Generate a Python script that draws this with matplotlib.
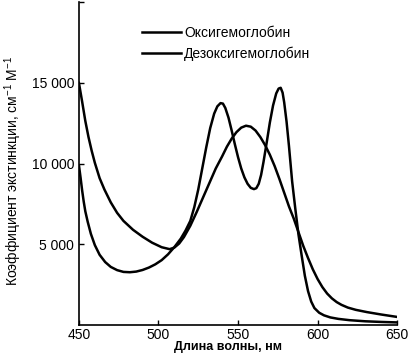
import matplotlib
matplotlib.use("Agg")
import matplotlib.pyplot as plt

# Absorption spectra (wavelength in nm, extinction coefficient)
oxy_nm = [450, 451, 452, 453, 454, 455.5, 457.5, 460, 463, 466.5, 470, 474, 478,
          482, 486, 490, 494, 498, 502, 506, 510, 514, 517, 520, 522.5, 525,
          527.5, 530, 532.5, 535, 537, 539, 540.5, 542, 544, 546, 548, 550, 552,
          554, 556, 558, 560, 561.5, 563, 564.5, 566, 568, 570, 572, 574, 575.5,
          576.8, 578, 579, 580.5, 582, 584, 586, 588, 590, 592, 594, 596, 598,
          601, 604, 608, 613, 620, 630, 640, 650]
oxy_val = [9900, 9150, 8350, 7650, 7050, 6400, 5650, 4950, 4350, 3900, 3600, 3400, 3290,
           3270, 3310, 3410, 3560, 3760, 4020, 4380, 4830, 5350, 5850, 6450, 7300, 8400,
           9700, 11000, 12200, 13100, 13550, 13750, 13720, 13450, 12850, 12050, 11200, 10400, 9700,
           9150, 8750, 8500, 8420, 8480, 8750, 9300, 10100, 11300, 12550, 13600, 14350, 14650,
           14700, 14400, 13800, 12600, 11100, 8900, 7200, 5600, 4300, 3050, 2100, 1450, 1050,
           760, 600, 470, 380, 300, 230, 190, 160]

deoxy_nm = [450, 452, 454, 456, 458, 460, 463, 466, 470, 474, 478, 484, 490, 496,
            502, 507, 510, 513, 516, 520, 524, 528, 532, 536, 540, 543, 546, 549,
            552, 555, 558, 561, 564, 567, 570, 573, 576, 579, 582, 585, 588, 591,
            594, 597, 600, 603, 606, 609, 612, 615, 619, 624, 631, 640, 650]
deoxy_val = [15000, 13850, 12650, 11650, 10800, 10050, 9100, 8400, 7600, 6950, 6450, 5900, 5470, 5100,
             4820, 4700, 4800, 5050, 5450, 6150, 7000, 7900, 8800, 9700, 10450, 11050, 11550, 11950,
             12230, 12350, 12290, 12050, 11650, 11150, 10550, 9850, 9050, 8200, 7350, 6600, 5750, 4900,
             4150, 3450, 2850, 2350, 1950, 1650, 1420, 1250, 1080, 940, 800, 650, 500]

x_ticks = [450, 500, 550, 600, 650]
y_ticks = [5000, 10000, 15000, 20000]
y_tick_labels = ["5 000", "10 000", "15 000", ""]

plt.rcParams["font.family"] = ["Liberation Sans", "DejaVu Sans"]
plt.rcParams["mathtext.fontset"] = "custom"
plt.rcParams["mathtext.rm"] = "Liberation Sans"
plt.rcParams["mathtext.it"] = "Liberation Sans"

fig = plt.figure(figsize=(4.09, 3.59), dpi=100)
ax = fig.add_axes([0.193, 0.0947, 0.778, 0.899])

ax.plot(oxy_nm, oxy_val, color="black", lw=1.8, label="Оксигемоглобин")
ax.plot(deoxy_nm, deoxy_val, color="black", lw=1.8, label="Дезоксигемоглобин")

ax.set_xlim(450, 650)
ax.set_ylim(0, 20000)
ax.set_xticks(x_ticks)
ax.set_yticks(y_ticks)
ax.set_yticklabels(y_tick_labels)

for side in ("top", "right"):
    ax.spines[side].set_visible(False)
for side in ("left", "bottom"):
    ax.spines[side].set_linewidth(1.2)

ax.tick_params(axis="both", direction="in", length=3.5, width=1, labelsize=10)
ax.tick_params(axis="y", pad=3.5)
ax.tick_params(axis="x", pad=2)

fig.text(228 / 409, 1 - 347 / 359, "Длина волны, нм", fontsize=9,
         fontweight="bold", ha="center", va="center")
fig.text(13 / 409, 1 - 171 / 359, "Коэффициент экстинкции, см$^{-1}$ М$^{-1}$",
         fontsize=10, rotation=90, ha="center", va="center")

ax.legend(loc="upper left", bbox_to_anchor=(142 / 409, 1 - 26 / 359),
          bbox_transform=fig.transFigure, frameon=False, fontsize=10,
          handlelength=2.8, handletextpad=0.25, labelspacing=0.45,
          borderpad=0, borderaxespad=0)

fig.savefig("out.png", dpi=100)
